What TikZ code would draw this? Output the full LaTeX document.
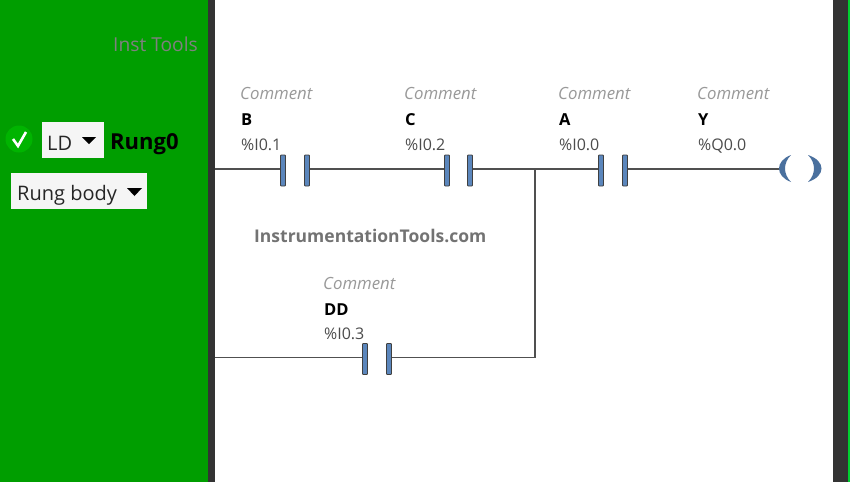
\documentclass[tikz,border=0pt]{standalone}
\usepackage{fontspec}
\setmainfont{Open Sans}
\usepackage{xcolor}
\definecolor{panelgreen}{HTML}{009E00}
\definecolor{okgreen}{HTML}{00B400}
\definecolor{bardark}{HTML}{333333}
\definecolor{contactblue}{HTML}{5B86BC}
\definecolor{coilblue}{HTML}{4A709E}
\definecolor{wiregrey}{HTML}{505050}
\definecolor{edgegreen}{HTML}{00D030}
\usetikzlibrary{positioning}
\begin{document}
\begin{tikzpicture}[x=1pt,y=-1pt,
comment/.style={font=\fontsize{16.8}{18}\selectfont\itshape,text=black!40,inner sep=0pt,anchor=base west},
tagname/.style={font=\fontsize{16.5}{18}\selectfont\bfseries,inner sep=0pt,anchor=base west},
address/.style={font=\fontsize{16}{18}\selectfont,text=black!70,inner sep=0pt,anchor=base west},
plate/.style={draw=black!75,fill=contactblue,line width=.9pt,rounded corners=.8pt,minimum width=5pt,minimum height=31pt,inner sep=0pt},
wire/.style={draw=wiregrey,line width=1.2pt},
menu/.style={fill=black!4,inner sep=0pt,font=\fontsize{20}{22}\selectfont,text=black!85}]
\useasboundingbox (0,0) rectangle (860,482);
\fill[white] (0,0) rectangle (860,482);
\fill[panelgreen] (0,0) rectangle (208,482);
\fill[bardark] (208,0) rectangle (215,482);
\fill[bardark] (833,0) rectangle (848,482);
\fill[edgegreen] (848,0) rectangle (850,482);
% left panel
\node (inst) [anchor=base east,inner sep=0pt,text=black!50,font=\fontsize{19.2}{20}\selectfont] at (198,51) {Inst Tools};
\node (okdot) [circle,fill=okgreen,minimum size=27pt,inner sep=0pt] at (19,139) {};
\draw[white,line width=2.6pt] (13,139) -- (18,146) -- (26,132);
\node (ldbox) [menu,minimum width=62pt,minimum height=36pt] at (73,140) {};
\node (ld) [menu,fill=none,anchor=base west] at (47,150) {LD};
\fill (82,137) -- (96,137) -- (89,144) -- cycle;
\node (rung) [anchor=base west,inner sep=0pt,font=\fontsize{22}{24}\selectfont\bfseries] at (110,149) {Rung0};
\node (bodybox) [menu,minimum width=136pt,minimum height=36pt] at (79,191) {};
\node (body) [menu,fill=none,anchor=base west] at (17,200) {Rung body};
\fill (127,188) -- (142,188) -- (134.5,196) -- cycle;
% rung 0
\node (cb1) [plate] at (283,170.5) {};
\node (cb2) [plate] at (307,170.5) {};
\node (cc1) [plate] at (447,170.5) {};
\node (cc2) [plate] at (470,170.5) {};
\node (ca1) [plate] at (601,170.5) {};
\node (ca2) [plate] at (625,170.5) {};
\coordinate (lefta) at (215,169);
\coordinate (leftb) at (215,357.5);
\coordinate (join) at (535,169);
\coordinate (joinb) at (535,357.5);
\coordinate (cy) at (779,169);
\draw[wire] (lefta) -- (cb1.west |- lefta);
\draw[wire] (cb2.east |- lefta) -- (cc1.west |- lefta);
\draw[wire] (cc2.east |- lefta) -- (ca1.west |- lefta);
\draw[wire] (ca2.east |- lefta) -- (cy);
\node (cd1) [plate] at (365,359) {};
\node (cd2) [plate] at (389,359) {};
\draw[wire,line width=1.9pt] (leftb) -- (cd1.west |- leftb);
\draw[wire,line width=1.9pt] (cd2.east |- leftb) -- (joinb) -- (join);
% coil
\fill[coilblue] (791,155) .. controls (775,161) and (775,176) .. (791,182) .. controls (783,174) and (783,163) .. (791,155);
\fill[coilblue] (808,155) .. controls (826,161) and (826,176) .. (808,182) .. controls (816,174) and (816,163) .. (808,155);
% labels
\node (comb) [comment] at (240,99) {Comment};
\node (nameb) [tagname] at (241,125) {B};
\node (addrb) [address] at (241,150) {\%I0.1};
\node (comc) [comment] at (404,99) {Comment};
\node (namec) [tagname] at (405,125) {C};
\node (addrc) [address] at (405,150) {\%I0.2};
\node (coma) [comment] at (558,99) {Comment};
\node (namea) [tagname] at (559,125) {A};
\node (addra) [address] at (559,150) {\%I0.0};
\node (comy) [comment] at (697,99) {Comment};
\node (namey) [tagname] at (698,125) {Y};
\node (addry) [address] at (698,150) {\%Q0.0};
\node (comd) [comment] at (323,289) {Comment};
\node (named) [tagname] at (324,315) {DD};
\node (addrd) [address] at (324,339) {\%I0.3};
\node (site) [anchor=base west,inner sep=0pt,text=black!55,font=\fontsize{17.5}{20}\selectfont\bfseries] at (254,242) {InstrumentationTools.com};
\end{tikzpicture}
\end{document}
